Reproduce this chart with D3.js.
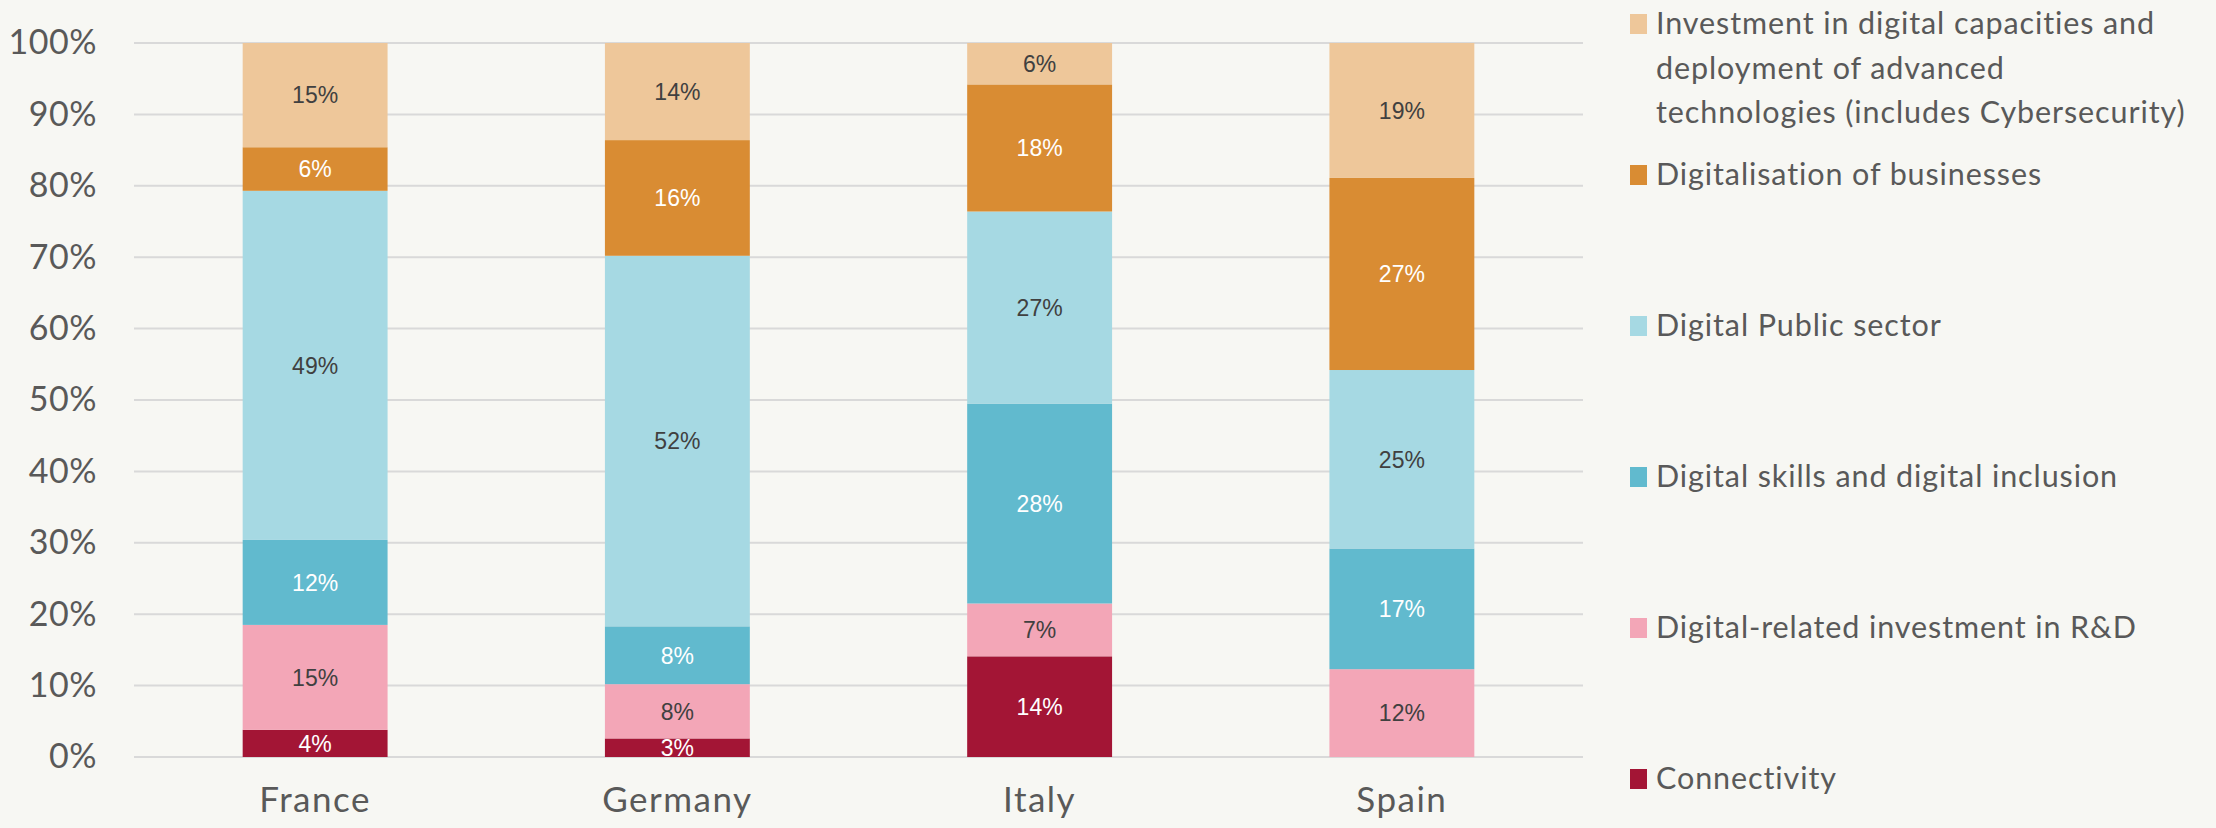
<!DOCTYPE html>
<html>
<head>
<meta charset="utf-8">
<script src="https://cdn.jsdelivr.net/npm/d3@7"></script>
<style>
  html, body { margin: 0; padding: 0; background: #f7f7f3; }
  svg { display: block; }
</style>
</head>
<body>
<div id="chart"></div>
<script>
// data (share of digital spending, %)
const countries = ["France", "Germany", "Italy", "Spain"];
const seriesNames = [
  "Connectivity",
  "Digital-related investment in R&D",
  "Digital skills and digital inclusion",
  "Digital Public sector",
  "Digitalisation of businesses",
  "Investment in digital capacities and deployment of advanced technologies (includes Cybersecurity)"
];
const connectivity = [3.8, 2.6, 14.1, 0];
const rdInvestment = [14.7, 7.6, 7.4, 12.3];
const digitalSkills = [11.9, 8.1, 28.0, 16.9];
const publicSector = [48.9, 51.9, 26.9, 25.0];
const businesses = [6.1, 16.2, 17.8, 26.9];
const advancedTech = [14.6, 13.6, 5.8, 18.9];
const yTicks = [0, 10, 20, 30, 40, 50, 60, 70, 80, 90, 100];
const legendLines = [
  ["Investment in digital capacities and", "deployment of advanced", "technologies (includes Cybersecurity)"],
  ["Digitalisation of businesses"],
  ["Digital Public sector"],
  ["Digital skills and digital inclusion"],
  ["Digital-related investment in R&D"],
  ["Connectivity"]
];

const colors = ["#a31535", "#f3a6b7", "#61bace", "#a6d9e3", "#d98c33", "#eec79a"];
const labelColors = ["#ffffff", "#404040", "#ffffff", "#404040", "#ffffff", "#404040"];

const W = 2216, H = 828;
const margin = { top: 43, left: 134, plotRight: 1583, bottom: 757 };
const font = "Lato, 'Open Sans', sans-serif";

const svg = d3.select("#chart").append("svg")
  .attr("width", W)
  .attr("height", H);

// build rows for stacking
const allSeries = [connectivity, rdInvestment, digitalSkills, publicSector, businesses, advancedTech];
const rows = countries.map((c, i) => {
  const r = { country: c };
  seriesNames.forEach((s, k) => { r[s] = allSeries[k][i]; });
  return r;
});
const stacked = d3.stack().keys(seriesNames)(rows);

const x = d3.scaleBand()
  .domain(countries)
  .range([margin.left, margin.plotRight])
  .paddingInner(0.6)
  .paddingOuter(0.3);

const y = d3.scaleLinear()
  .domain([0, 100])
  .range([margin.bottom, margin.top]);

// gridlines
svg.append("g")
  .selectAll("line")
  .data(yTicks)
  .enter().append("line")
  .attr("x1", margin.left)
  .attr("x2", margin.plotRight)
  .attr("y1", d => y(d))
  .attr("y2", d => y(d))
  .attr("stroke", "#d9d9d9")
  .attr("stroke-width", 2);

// y axis labels
const yAxis = d3.axisLeft(y).tickValues(yTicks).tickFormat(d => d + "%").tickSize(0).tickPadding(37);
const yG = svg.append("g")
  .attr("transform", `translate(${margin.left},0)`)
  .call(yAxis);
yG.select(".domain").remove();
yG.selectAll("text")
  .attr("font-family", font)
  .attr("font-size", 34)
  .attr("letter-spacing", 0.5)
  .attr("fill", "#595959");

// x axis labels
const xAxis = d3.axisBottom(x).tickSize(0).tickPadding(30);
const xG = svg.append("g")
  .attr("transform", `translate(0,${margin.bottom})`)
  .call(xAxis);
xG.select(".domain").remove();
xG.selectAll("text")
  .attr("font-family", font)
  .attr("font-size", 35)
  .attr("letter-spacing", 1.5)
  .attr("fill", "#595959");

// bars
const layers = svg.append("g")
  .selectAll("g")
  .data(stacked)
  .enter().append("g")
  .attr("fill", (d, i) => colors[i]);

layers.selectAll("rect")
  .data(d => d)
  .enter().append("rect")
  .attr("x", d => x(d.data.country))
  .attr("y", d => y(d[1]))
  .attr("width", x.bandwidth())
  .attr("height", d => y(d[0]) - y(d[1]));

// value labels
layers.each(function(layer, i) {
  d3.select(this).selectAll("text")
    .data(layer.filter(d => d[1] - d[0] > 0))
    .enter().append("text")
    .attr("x", d => x(d.data.country) + x.bandwidth() / 2)
    .attr("y", d => (y(d[0]) + y(d[1])) / 2)
    .attr("dy", "0.36em")
    .attr("text-anchor", "middle")
    .attr("font-family", "'Liberation Sans', Arial, sans-serif")
    .attr("font-size", 23)
    .attr("fill", labelColors[i])
    .text(d => Math.round(d[1] - d[0]) + "%");
});

// legend (top to bottom: reversed series order)
const legendX = 1630, legendTop = 24, legendStep = 151, lineH = 44.5;
const legendColors = colors.slice().reverse();
const legend = svg.append("g")
  .selectAll("g")
  .data(legendLines)
  .enter().append("g")
  .attr("transform", (d, i) => `translate(${legendX},${legendTop + i * legendStep})`);

legend.append("rect")
  .attr("x", 0)
  .attr("y", -10)
  .attr("width", 17)
  .attr("height", 20)
  .attr("fill", (d, i) => legendColors[i]);

legend.append("text")
  .attr("x", 26)
  .attr("y", 10)
  .attr("font-family", font)
  .attr("font-size", 30.5)
  .attr("letter-spacing", 0.9)
  .attr("fill", "#595959")
  .selectAll("tspan")
  .data(d => d)
  .enter().append("tspan")
  .attr("x", 26)
  .attr("dy", (d, j) => j === 0 ? 0 : lineH)
  .text(d => d);
</script>
</body>
</html>
